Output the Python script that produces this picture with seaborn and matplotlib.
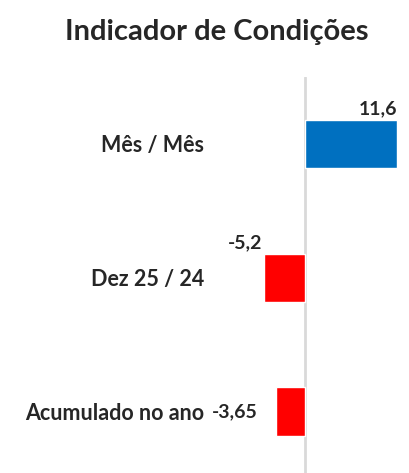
import matplotlib
matplotlib.use("Agg")
import matplotlib.pyplot as plt
import seaborn as sns
import pandas as pd

categories = ["Mês / Mês", "Dez 25 / 24", "Acumulado no ano"]
values = [11.6, -5.2, -3.65]
value_labels = ["11,6", "-5,2", "-3,65"]
bar_colors = ["#0070C0", "#FF0000", "#FF0000"]

sns.set_style("white")
plt.rcParams["font.family"] = ["Lato", "DejaVu Sans"]

df = pd.DataFrame({"categoria": categories, "valor": values})

fig = plt.figure(figsize=(4.09, 4.73), dpi=100)
ax = fig.add_axes([210 / 409, 0.0, 198 / 409, (473 - 77) / 473])

sns.barplot(data=df, x="valor", y="categoria", hue="categoria", palette=bar_colors,
            orient="h", width=0.36, legend=False, ax=ax, saturation=1)

ax.set_xlim(-12, 13)
ax.set_ylim(2.46, -0.5)
ax.axvline(0, color="#d9d9d9", lw=2, zorder=0)

ax.set_xticks([])
ax.set_xlabel("")
ax.set_ylabel("")
ax.tick_params(axis="y", length=0, pad=4, labelsize=15.5)
for lbl in ax.get_yticklabels():
    lbl.set_fontweight("bold")
for s in ax.spines.values():
    s.set_visible(False)

half = 0.18
# value labels, placed like the original "outside end" labels
ax.annotate(value_labels[0], xy=(values[0], 0 - half), xytext=(0, 2), textcoords="offset points",
            ha="right", va="bottom", fontsize=14, fontweight="bold")
ax.annotate(value_labels[1], xy=(values[1], 1 - half), xytext=(-1, 2), textcoords="offset points",
            ha="right", va="bottom", fontsize=14, fontweight="bold")
ax.annotate(value_labels[2], xy=(values[2], 2), xytext=(-13, 0), textcoords="offset points",
            ha="right", va="center", fontsize=14, fontweight="bold")

fig.text(217 / 409, 1 - 32 / 473, "Indicador de Condições", ha="center", va="center",
         fontsize=21, fontweight="bold")

plt.savefig("out.png", dpi=100)
